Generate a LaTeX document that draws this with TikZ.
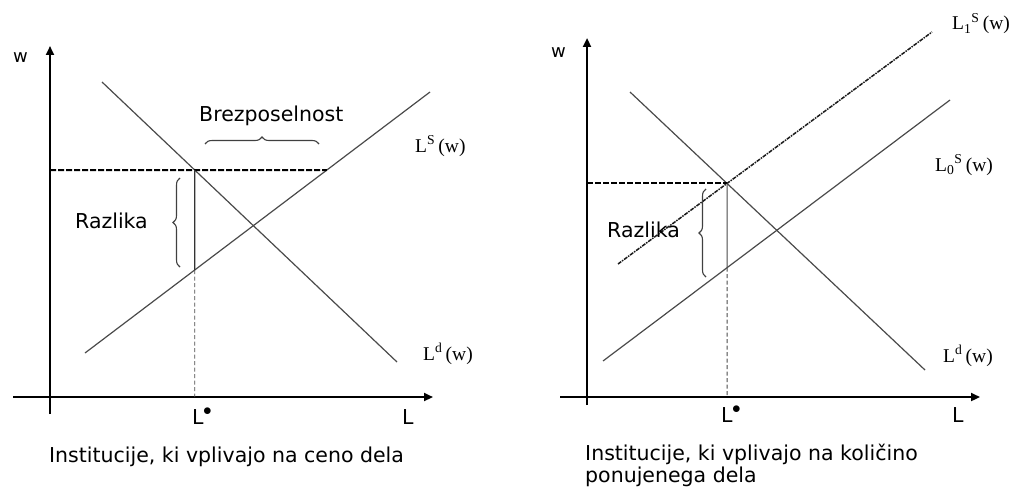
\documentclass[tikz,border=0pt]{standalone}
\usepackage{fontspec}
\setmainfont{Liberation Serif}
\newfontfamily\labelfont{DejaVu Sans}
\usetikzlibrary{arrows.meta,decorations.pathreplacing}
\definecolor{curvecolor}{HTML}{4a4a4a}
\definecolor{guidecolor}{HTML}{1a1a1a}
\newcommand{\starmark}{\kern-0.5pt\raisebox{0.40em}{\fontsize{17}{17}\selectfont$\bullet$}}

\begin{document}
\begin{tikzpicture}[x=1pt, y=-1pt, >={Triangle[length=9pt,width=8pt]},
  axis/.style={->, line width=2.2pt, black},
  curve/.style={draw=curvecolor, line width=1.2pt},
  shifted/.style={draw=guidecolor, line width=1.5pt,
    dash pattern=on 4pt off 1pt on 1.5pt off 1pt},
  wageline/.style={draw=black, line width=2pt, dash pattern=on 6pt off 2pt},
  dropline/.style={draw=curvecolor, line width=0.9pt, dash pattern=on 4pt off 2.5pt},
  gapline/.style={draw=black!80, line width=1.4pt},
  gapbrace/.style={decorate, decoration={brace, amplitude=7pt}, draw=black!75, line width=1.1pt},
  sanslabel/.style={font=\labelfont\fontsize{20.5}{24}\selectfont, inner sep=0pt, anchor=base west},
  curvelabel/.style={font=\fontsize{19.5}{21}\selectfont, inner sep=0pt, anchor=base west},
  caption/.style={font=\labelfont\fontsize{20.5}{22}\selectfont, inner sep=0pt,
    anchor=base west, align=left}]

%%=== COORDINATE PLAN (px, y downwards) ==============================
%%  Left panel : origin (50,397), wage level y=170
%%  Right panel: origin (587,397), wage level where L1 meets demand
%%  Text nodes are placed by their (last) baseline
%%====================================================================
\useasboundingbox (0,0) rectangle (1014,487);

%% --- Left panel: institutions acting on the price of labour --------
\coordinate (lOrigin) at (50,397);
\coordinate (lYtop)   at (50,46);
\coordinate (lYbot)   at (50,414);
\coordinate (lXleft)  at (13,397);
\coordinate (lXright) at (433,397);
\coordinate (lDemA)   at (102,82);
\coordinate (lDemB)   at (397,362);
\coordinate (lSupA)   at (85,353);
\coordinate (lSupB)   at (430,92);
\coordinate (lWage)   at (50,170);
\coordinate (lHigh)   at (intersection cs: first line={(lDemA)--(lDemB)},
                                           second line={(0,170)--(1,170)});
\coordinate (lExcess) at (intersection cs: first line={(lSupA)--(lSupB)},
                                           second line={(0,170)--(1,170)});
\coordinate (lStar)   at (lHigh |- lOrigin);
\coordinate (lLow)    at (intersection cs: first line={(lSupA)--(lSupB)},
                                           second line={(lHigh)--(lStar)});

\draw[axis] (lYbot) -- (lYtop);
\draw[axis] (lXleft) -- (lXright);
\draw[curve] (lDemA) -- (lDemB);
\draw[curve] (lSupA) -- (lSupB);
\draw[wageline] (lWage) -- (lExcess);
\draw[gapline] (lHigh) -- (lLow);
\draw[dropline] (lLow) -- (lStar);
\draw[gapbrace] (205,144) -- (319,144);
\draw[gapbrace] (180,267) -- (180,178);

\node[sanslabel, font=\labelfont\fontsize{18}{20}\selectfont] (lW) at (13,63) {w};
\node[sanslabel] (lL) at (402,424) {L};
\node[sanslabel] (lLstar) at (192,424) {L\starmark};
\node[sanslabel] (lUnemp) at (199,121) {Brezposelnost};
\node[sanslabel] (lGap) at (75,228) {Razlika};
\node[curvelabel] (lSupLab) at (415,152) {L\textsuperscript{S}\,(w)};
\node[curvelabel] (lDemLab) at (423,360) {L\textsuperscript{d}\,(w)};
\node[caption] (lCap) at (49,462) {Institucije, ki vplivajo na ceno dela};

%% --- Right panel: institutions acting on the quantity supplied -----
\coordinate (rOrigin) at (587,397);
\coordinate (rYtop)   at (587,38);
\coordinate (rYbot)   at (587,405);
\coordinate (rXleft)  at (560,397);
\coordinate (rXright) at (980,397);
\coordinate (rDemA)   at (630,92);
\coordinate (rDemB)   at (925,370);
\coordinate (rSupA)   at (603,361);
\coordinate (rSupB)   at (950,100);
\coordinate (rNewA)   at (618,264);
\coordinate (rNewB)   at (932,32);
\coordinate (rHigh)   at (intersection cs: first line={(rDemA)--(rDemB)},
                                           second line={(rNewA)--(rNewB)});
\coordinate (rWage)   at (rOrigin |- rHigh);
\coordinate (rStar)   at (rHigh |- rOrigin);
\coordinate (rLow)    at (intersection cs: first line={(rSupA)--(rSupB)},
                                           second line={(rHigh)--(rStar)});

\draw[axis] (rYbot) -- (rYtop);
\draw[axis] (rXleft) -- (rXright);
\draw[curve] (rDemA) -- (rDemB);
\draw[curve] (rSupA) -- (rSupB);
\draw[shifted] (rNewA) -- (rNewB);
\draw[wageline] (rWage) -- (rHigh);
\draw[curve, line width=1pt] (rHigh) -- (rLow);
\draw[dropline] (rLow) -- (rStar);
\draw[gapbrace] (706,277) -- (706,189);

\node[sanslabel, font=\labelfont\fontsize{18}{20}\selectfont] (rW) at (551,57) {w};
\node[sanslabel] (rL) at (952,422) {L};
\node[sanslabel] (rLstar) at (721,422) {L\starmark};
\node[sanslabel] (rGap) at (607,237) {Razlika};
\node[curvelabel] (rNewLab) at (952,30)
  {L\textsubscript{1}\textsuperscript{S}\,(w)};
\node[curvelabel] (rSupLab) at (935,171)
  {L\textsubscript{0}\textsuperscript{S}\,(w)};
\node[curvelabel] (rDemLab) at (943,362) {L\textsuperscript{d}\,(w)};
\node[caption] (rCap) at (585,482)
  {Institucije, ki vplivajo na količino\\ponujenega dela};

\end{tikzpicture}
\end{document}
